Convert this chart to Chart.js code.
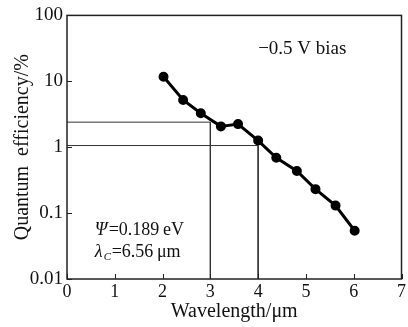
<!DOCTYPE html>
<html>
<head>
<meta charset="utf-8">
<script src="https://cdn.jsdelivr.net/npm/chart.js@4/dist/chart.umd.min.js"></script>
<style>
  body { margin: 0; background: #fff; }
  #wrap { width: 408px; height: 327px; }
</style>
</head>
<body>
<div id="wrap"><canvas id="qe"></canvas></div>
<script>
// measured points (wavelength in um, QE in %)
const wavelengths = [2.02, 2.43, 2.80, 3.22, 3.58, 4.0, 4.38, 4.81, 5.20, 5.62, 6.02];
const efficiency = [11.7, 5.2, 3.28, 2.07, 2.24, 1.26, 0.69, 0.435, 0.231, 0.130, 0.054];

// guide lines
const guideA_x = [0, 3, 3];
const guideA_y = [2.4, 2.4, 0.01];
const guideB_x = [0, 4, 4];
const guideB_y = [1.06, 1.06, 0.01];

const yTicks = [0.01, 0.1, 1, 10, 100];
const xTicks = [0, 1, 2, 3, 4, 5, 6, 7];

const serif = '"Liberation Serif", "DejaVu Serif", serif';

function pts(xs, ys) {
  return xs.map((x, i) => ({ x: x, y: ys[i] }));
}

// frame, inner tick marks and text notes
const extras = {
  id: 'extras',
  afterDraw(chart) {
    const c = chart.ctx, a = chart.chartArea;
    const xs = chart.scales.x, ys = chart.scales.y;
    c.save();
    c.strokeStyle = '#222';
    c.lineWidth = 1.5;
    c.strokeRect(a.left, a.top, a.right - a.left, a.bottom - a.top);
    c.lineWidth = 1;
    xTicks.forEach(v => {
      const px = Math.round(xs.getPixelForValue(v)) + 0.5;
      c.beginPath(); c.moveTo(px, a.bottom); c.lineTo(px, a.bottom - 5); c.stroke();
    });
    yTicks.forEach(v => {
      const py = Math.round(ys.getPixelForValue(v)) + 0.5;
      c.beginPath(); c.moveTo(a.left, py); c.lineTo(a.left + 5, py); c.stroke();
    });
    c.fillStyle = '#111';
    c.textBaseline = 'middle';
    c.textAlign = 'left';
    c.font = '19px ' + serif;
    c.fillText('\u22120.5 V bias', xs.getPixelForValue(4.0), ys.getPixelForValue(31));
    let px = xs.getPixelForValue(0.58);
    let py = ys.getPixelForValue(0.0546);
    c.font = 'italic 18px ' + serif;
    c.fillText('\u03A8', px, py);
    c.font = '18px ' + serif;
    c.fillText('=0.189\u2009eV', px + 14, py);
    py = ys.getPixelForValue(0.0255);
    c.font = 'italic 18px ' + serif;
    c.fillText('\u03BB', px, py);
    c.font = 'italic 11px ' + serif;
    c.fillText('C', px + 9, py + 5);
    c.font = '18px ' + serif;
    c.fillText('=6.56\u2009\u03BCm', px + 17, py);
    c.restore();
  }
};

new Chart(document.getElementById('qe'), {
  type: 'line',
  data: {
    datasets: [
      {
        data: pts(wavelengths, efficiency),
        borderColor: '#000',
        backgroundColor: '#000',
        borderWidth: 3,
        pointRadius: 3.5,
        pointHoverRadius: 3.5
      },
      {
        data: pts(guideA_x, guideA_y),
        borderColor: '#333',
        borderWidth: 1,
        pointRadius: 0
      },
      {
        data: pts(guideB_x, guideB_y),
        borderColor: '#333',
        borderWidth: 1,
        pointRadius: 0
      }
    ]
  },
  options: {
    responsive: true,
    maintainAspectRatio: false,
    animation: false,
    layout: { padding: { top: 13, right: 0, left: 0, bottom: 0 } },
    plugins: { legend: { display: false }, tooltip: { enabled: false } },
    scales: {
      x: {
        type: 'linear',
        min: 0,
        max: 7,
        afterBuildTicks: s => { s.ticks = xTicks.map(v => ({ value: v })); },
        grid: { display: false, tickLength: 0 },
        border: { display: false },
        ticks: { color: '#111', font: { family: serif, size: 18 }, padding: 2, maxRotation: 0 },
        title: { display: true, text: 'Wavelength/\u03BCm', color: '#111', font: { family: serif, size: 20 }, padding: { top: 0, bottom: 3 } },
        afterFit: s => { s.height = 48; s.paddingRight = 2; }
      },
      y: {
        type: 'logarithmic',
        min: 0.01,
        max: 100,
        afterBuildTicks: s => { s.ticks = yTicks.map(v => ({ value: v })); },
        grid: { display: false, tickLength: 0 },
        border: { display: false },
        ticks: {
          color: '#111',
          font: { family: serif, size: 19 },
          padding: 4,
          callback: v => String(v)
        },
        title: { display: true, text: 'Quantum  efficiency/%', color: '#111', font: { family: serif, size: 20 }, padding: { top: 11, bottom: 0 } },
        afterFit: s => { s.width = 67; }
      }
    }
  },
  plugins: [extras]
});
</script>
</body>
</html>
